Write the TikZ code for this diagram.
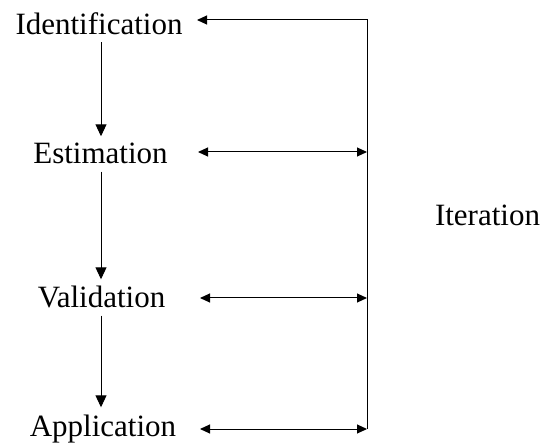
\documentclass[tikz,border=0pt]{standalone}
\usepackage{fontspec}
\setmainfont{Liberation Serif}
\usetikzlibrary{arrows.meta}
\begin{document}
\begin{tikzpicture}[x=1pt,y=-1pt,
  stage/.style={anchor=base,inner sep=0pt,font=\fontsize{31}{36}\selectfont},
  flow/.style={line width=1pt,-{Triangle[length=12pt,width=11pt]},shorten <=7pt,shorten >=7pt},
  link/.style={line width=1pt,{Triangle[length=10pt,width=9pt]}-{Triangle[length=10pt,width=9pt]}},
  feedback/.style={line width=1pt,-{Triangle[length=10pt,width=9pt]}}]
  \useasboundingbox (0,0) rectangle (543,443);

  % process stages
  \node[stage] (id)  at (99,35)  {Identification};
  \node[stage] (est) at (100.5,164) {Estimation};
  \node[stage] (val) at (101.5,308) {Validation};
  \node[stage] (app) at (103,436) {Application};
  \node[stage] (it)  at (487.5,226) {Iteration};

  % downward flow between stages
  \draw[flow] (id.south -| 101,0) -- (est.north -| 101,0);
  \draw[flow] (est.south -| 101,0) -- (val.north -| 101,0);
  \draw[flow] (val.south -| 101,0) -- (app.north -| 101,0);

  % iteration bus on the right
  \coordinate (busId)  at (367,20);
  \coordinate (busEst) at (367,152);
  \coordinate (busVal) at (367,298);
  \coordinate (busApp) at (367,429);
  \coordinate (inId)  at (197,20);
  \coordinate (inEst) at (198,152);
  \coordinate (inVal) at (200,298);
  \coordinate (inApp) at (200,429);

  \draw[feedback] (busApp) -- (busId) -- (inId);
  \draw[link] (inEst) -- (busEst);
  \draw[link] (inVal) -- (busVal);
  \draw[link] (inApp) -- (busApp);
\end{tikzpicture}
\end{document}
